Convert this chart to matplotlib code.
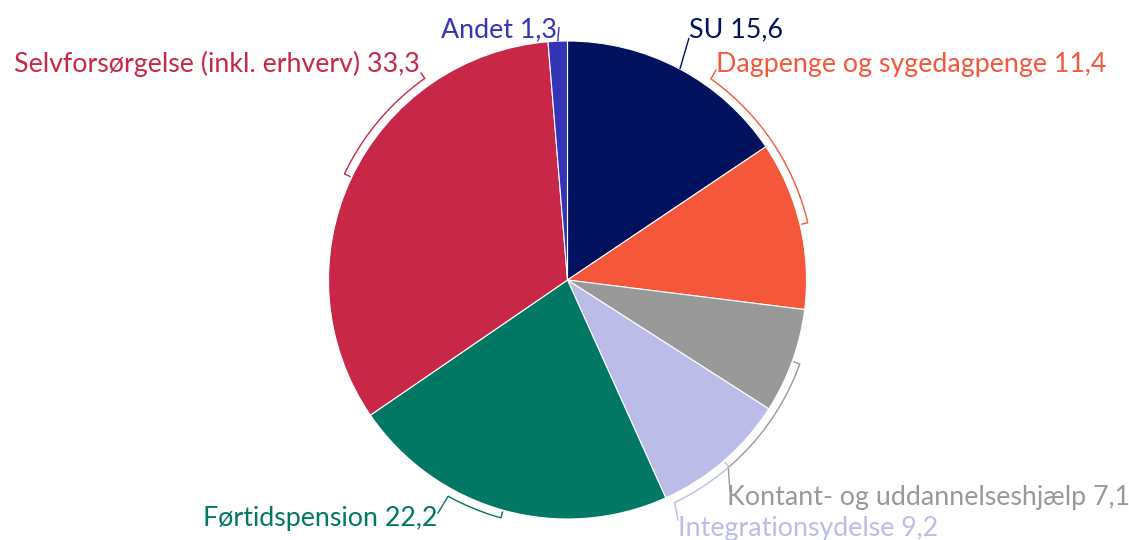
import numpy as np
import matplotlib
matplotlib.use('Agg')
import matplotlib.pyplot as plt

categories = ["SU", "Dagpenge og sygedagpenge", "Kontant- og uddannelseshjælp",
              "Integrationsydelse", "Førtidspension",
              "Selvforsørgelse (inkl. erhverv)", "Andet"]
values = [15.6, 11.4, 7.1, 9.2, 22.2, 33.3, 1.3]
value_labels = ["15,6", "11,4", "7,1", "9,2", "22,2", "33,3", "1,3"]
colors = ["#00125E", "#F5573B", "#999999", "#BBBDE8", "#017864", "#C92747", "#3434B6"]

W, H = 1129, 540
fig = plt.figure(figsize=(W / 100, H / 100), dpi=100)
ax = fig.add_axes([0, 0, 1, 1])
cx, cy, R = 567.5, H - 280, 239

ax.pie(values, colors=colors, startangle=90, counterclock=False,
       center=(cx, cy), radius=R,
       wedgeprops=dict(edgecolor='white', linewidth=0.8))
ax.set_xlim(0, W)
ax.set_ylim(0, H)
ax.set_aspect('equal')
ax.axis('off')

total = sum(values)
cum = np.cumsum([0] + values[:-1])
mids = [(90 - 360 * (c + v / 2) / total + 180) % 360 - 180 for c, v in zip(cum, values)]

# label layout: (x, baseline y from top, ha, arc end angle or None, connector end (x, y from top))
layout = {
    "SU": (689, 37, 'left', None, (689, 38)),
    "Dagpenge og sygedagpenge": (716, 72, 'left', 54.5, (716, 70)),
    "Kontant- og uddannelseshjælp": (727, 505, 'left', -49.4, (730, 491)),
    "Integrationsydelse": (678, 536, 'left', -64.3, (678, 520)),
    "Førtidspension": (437, 526, 'right', -118.9, (438, 513)),
    "Selvforsørgelse (inkl. erhverv)": (420, 72, 'right', 125.3, (421, 73)),
    "Andet": (557, 37, 'right', None, (559, 27)),
}

fam = ['Lato', 'DejaVu Sans']
off = 8
for cat, val, col, mid in zip(categories, value_labels, colors, mids):
    tx, ty, ha, arc_end, (ex, ey) = layout[cat]
    ax.text(tx, H - ty, f"{cat} {val}", ha=ha, va='baseline', color=col,
            fontsize=19.3, family=fam)
    a = np.radians(mid)
    if arc_end is None:
        x0, y0 = cx + R * np.cos(a), cy + R * np.sin(a)
        ax.plot([x0, ex], [y0, H - ey], color=col, lw=1, solid_capstyle='butt')
    else:
        pts_x = [cx + (R + 2) * np.cos(a)]
        pts_y = [cy + (R + 2) * np.sin(a)]
        th = np.radians(np.linspace(mid, arc_end, 60))
        pts_x += list(cx + (R + off) * np.cos(th))
        pts_y += list(cy + (R + off) * np.sin(th))
        pts_x.append(ex)
        pts_y.append(H - ey)
        ax.plot(pts_x, pts_y, color=col, lw=1)

fig.savefig("out.png", dpi=100, facecolor='white')
